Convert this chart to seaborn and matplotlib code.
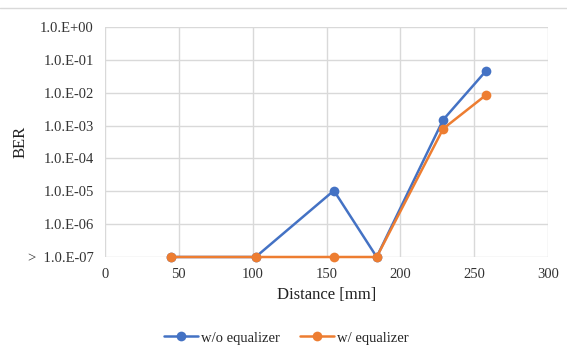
import numpy as np
import pandas as pd
import matplotlib.pyplot as plt
import matplotlib.ticker as mticker
import seaborn as sns

# data
distance = [45, 102, 155, 184, 229, 258]
ber_without = [1e-7, 1e-7, 1.05e-5, 1e-7, 1.5e-3, 4.6e-2]
ber_with = [1e-7, 1e-7, 1e-7, 1e-7, 8e-4, 8.5e-3]

df = pd.DataFrame({
    'Distance': distance * 2,
    'BER': ber_without + ber_with,
    'series': ['w/o equalizer'] * len(distance) + ['w/ equalizer'] * len(distance),
})

sns.set_style('white')
plt.rcParams['font.family'] = ['Liberation Serif', 'DejaVu Serif']

fig = plt.figure(figsize=(5.67, 3.54), dpi=100, facecolor='w')
ax = fig.add_axes([105 / 567, 1 - 257 / 354, 443 / 567, 230 / 354])

palette = {'w/o equalizer': '#4472C4', 'w/ equalizer': '#ED7D31'}
sns.lineplot(data=df, x='Distance', y='BER', hue='series', palette=palette,
             marker='o', markersize=7, markeredgewidth=0, linewidth=1.8,
             clip_on=False, ax=ax)

ax.set_yscale('log')
ax.set_ylim(1e-7, 1)
ax.set_xlim(0, 300)
ax.set_xticks(np.arange(0, 301, 50))
ax.set_yticks([10.0 ** k for k in range(-7, 1)])
ax.yaxis.set_minor_locator(mticker.NullLocator())

def fmt(v, pos):
    e = int(round(np.log10(v)))
    s = '1.0.E%s%02d' % ('+' if e >= 0 else '-', abs(e))
    if e == -7:
        s = '>  ' + s
    return s

ax.yaxis.set_major_formatter(mticker.FuncFormatter(fmt))
ax.grid(True, color='#d9d9d9', linewidth=1)
ax.set_axisbelow(True)
for s in ax.spines.values():
    s.set_visible(False)
ax.tick_params(length=0, labelsize=10.5, colors='#333333', pad=8)

ax.set_xlabel('Distance [mm]', fontsize=12, color='#222222', labelpad=4)
ax.set_ylabel('BER', fontsize=12, color='#222222')
ax.yaxis.set_label_coords(-0.172, 0.5)

handles, labels = ax.get_legend_handles_labels()
ax.get_legend().remove()
fig.legend(handles, labels, loc='center', bbox_to_anchor=(0.505, 1 - 338 / 354), ncol=2,
           frameon=False, fontsize=10.5, handlelength=2.3, handletextpad=0.2,
           columnspacing=1.4)

fig.add_artist(plt.Line2D([0, 1], [1 - 8 / 354, 1 - 8 / 354], color='#d9d9d9', linewidth=1))

fig.savefig('out.png', dpi=100)
